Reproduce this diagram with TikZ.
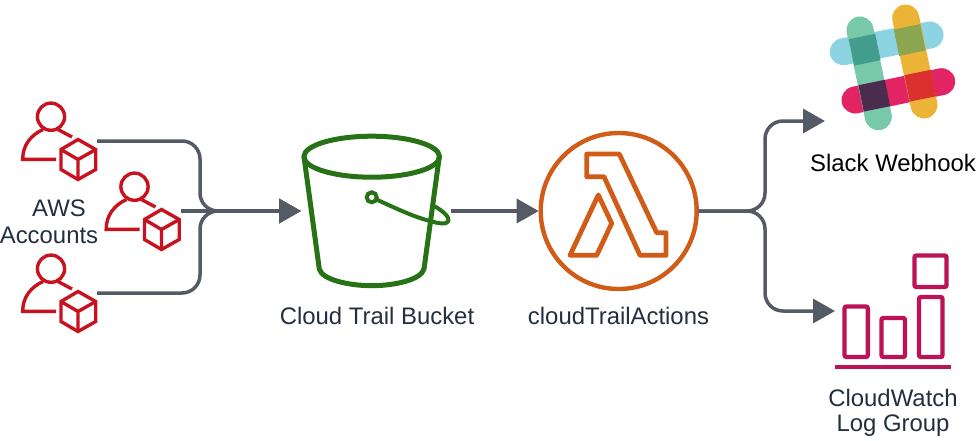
\documentclass[tikz,border=0pt]{standalone}
\usepackage{fontspec}
\setmainfont{Liberation Sans}
\usetikzlibrary{arrows.meta}
\definecolor{conn}{HTML}{545B64}
\definecolor{ink}{HTML}{232F3E}
\definecolor{awsred}{HTML}{C7131F}
\definecolor{s3green}{HTML}{277116}
\definecolor{lamorange}{HTML}{D05C17}
\definecolor{cwpink}{HTML}{BC1356}
\tikzset{
  iconbox/.style={draw=none,inner sep=0pt,outer sep=0pt},
  conline/.style={draw=conn,line width=3.5pt,rounded corners=18pt,-{Triangle[length=22pt,width=24pt]}},
  lab/.style={font=\fontsize{23.9}{27}\selectfont,text=ink,inner sep=0pt,align=center},
  usr/.style={draw=awsred,line width=3.4pt,line join=miter},
  bk/.style={draw=s3green,line width=5pt,line join=round,line cap=round},
  lam/.style={draw=lamorange,line width=4.8pt,line join=round},
  cw/.style={draw=cwpink,line width=4.4pt,rounded corners=2pt},
  bar/.style={line width=27pt,line cap=round},
  awsuser/.pic={
    \draw[usr] (-8,-24.3) circle (13.6);
    \draw[usr] (-3,18.3) -- (-36.3,18.3) .. controls (-36.3,4) and (-28,-6) .. (-16,-11.5);
    \draw[usr] (-1,-11.5) -- (13,-4);
    \draw[usr] (19,-1.5) -- (36.7,8.5) -- (36.7,28.5) -- (19,38.5) -- (2,28.5) -- (2,8.5) -- cycle;
    \draw[usr] (2,8.5) -- (19,18.5) -- (36.7,8.5) (19,18.5) -- (19,38.5);
  },
  overlap/.pic={\fill (15.9,10.5) -- (10.5,-15.9) -- (-15.9,-10.5) -- (-10.5,15.9) -- cycle;}
}
\begin{document}
\begin{tikzpicture}[x=1pt,y=-1pt]
\useasboundingbox (0,0) rectangle (978,440);
% users
\node[iconbox,minimum width=76pt,minimum height=82pt] (user1) at (59,141) {};
\node[iconbox,minimum width=76pt,minimum height=82pt] (user2) at (142.5,211) {};
\node[iconbox,minimum width=76pt,minimum height=82pt] (user3) at (59,293) {};
\pic at (user1) {awsuser};
\pic at (user2) {awsuser};
\pic at (user3) {awsuser};
\node[lab] (awslabel) at (59,208) {AWS};
\node[lab] (acclabel) at (49,235) {Accounts};
% bucket
\node[iconbox,minimum width=150pt,minimum height=140pt] (bucket) at (376,211) {};
\draw[bk] (371.7,156.7) ellipse (67.8 and 20.5);
\draw[bk] (304,156.7) -- (319.3,269) .. controls (322,280) and (350,285.7) .. (371.7,285.7) .. controls (394,285.7) and (421,280) .. (424,269) -- (439.3,156.7);
\draw[s3green,line width=4pt] (371.7,197.3) circle (5);
\draw[s3green,line width=4pt,line cap=round,line join=round] (376.5,199.5) .. controls (395,208) and (412,216) .. (428,220.5) .. controls (438,223.5) and (447,225) .. (448.5,221) .. controls (449.5,217) and (443,211) .. (435,206.5);
\node[lab] (bucketlabel) at (377,316) {Cloud Trail Bucket};
% lambda
\node[iconbox,draw=lamorange,line width=4.4pt,circle,minimum size=156pt,outer sep=2pt] (lambda) at (618.7,211) {};
\draw[lam] (586.7,154) -- (619.3,154) -- (656.7,232.7) -- (666,232.7) -- (666,255.3) -- (640,255.3) -- (604,176.7) -- (586.7,176.7) -- cycle;
\draw[lam] (598.3,195) -- (611.7,223.3) -- (596.7,255.3) -- (570,255.3) -- cycle;
\node[lab] (lambdalabel) at (618.5,316) {cloudTrailActions};
% slack
\coordinate (slackin) at (825,121);
\draw[bar,color={rgb,255:red,140;green,212;blue,225}] (843.3,51.7) -- (930,35);
\draw[bar,color={rgb,255:red,226;green,35;blue,100}] (855,100) -- (941.7,81.7);
\draw[bar,color={rgb,255:red,120;green,200;blue,170}] (860,30) -- (878.3,116.7);
\draw[bar,color={rgb,255:red,236;green,180;blue,55}] (905.7,18) -- (924,105);
\pic[color={rgb,255:red,67;green,157;blue,140}] at (864.7,49.7) {overlap};
\pic[color={rgb,255:red,140;green,165;blue,80}] at (909.7,40) {overlap};
\pic[color={rgb,255:red,74;green,44;blue,78}] at (874.3,95.7) {overlap};
\pic[color={rgb,255:red,219;green,48;blue,48}] at (920.3,85.7) {overlap};
\node[lab,text=black] (slacklabel) at (893,163) {Slack Webhook};
% cloudwatch
\coordinate (cwin) at (835,311);
\draw[cw] (844.5,306.5) rectangle (867.8,357);
\draw[cw] (881.5,318) rectangle (905,357);
\draw[cw] (919,297) rectangle (942.5,357);
\draw[cw] (914.5,255.5) rectangle (946.5,287);
\draw[draw=cwpink,line width=4.4pt] (835,366.7) -- (951,366.7);
\node[lab] (cwlabel) at (893,397.5) {CloudWatch};
\node[lab] (cwlabel2) at (893,426) {Log Group};
% connectors
\draw[conline] (user1.east) -- (200,141) -- (200,211) -- (bucket.west);
\draw[conline] (user2.east) -- (bucket.west);
\draw[conline] (user3.east) -- (200,293) -- (200,211) -- (bucket.west);
\draw[conline,rounded corners=0pt] (bucket.east) -- (lambda.west);
\draw[conline] (lambda.east) -- (765,211) -- (765,121) -- (slackin);
\draw[conline] (lambda.east) -- (765,211) -- (765,311) -- (cwin);
\end{tikzpicture}
\end{document}
